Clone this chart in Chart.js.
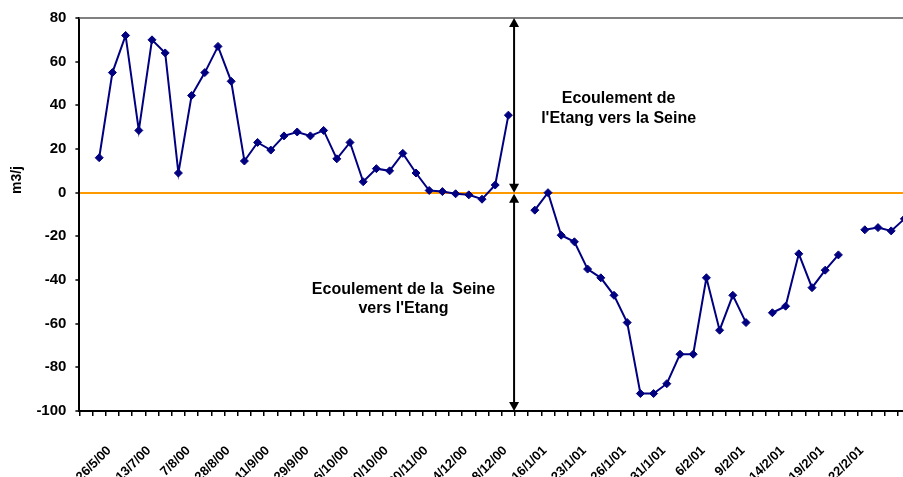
<!DOCTYPE html>
<html>
<head>
<meta charset="utf-8">
<script src="https://cdn.jsdelivr.net/npm/chart.js@4.4.1/dist/chart.umd.min.js"></script>
<style>
  html, body { margin: 0; padding: 0; background: #fff; overflow: hidden; }
  #wrap { position: relative; width: 916px; height: 477px; }
</style>
</head>
<body>
<div id="wrap"><canvas id="debit" width="916" height="477"></canvas></div>
<script>
// Dates shown under the axis, one every third sample
const tickDates = [
  '26/5/00', '13/7/00', '7/8/00', '28/8/00', '11/9/00', '29/9/00', '16/10/00',
  '30/10/00', '20/11/00', '4/12/00', '18/12/00', '16/1/01', '23/1/01', '26/1/01',
  '31/1/01', '6/2/01', '9/2/01', '14/2/01', '19/2/01', '22/2/01'
];

// Daily flow between the pond and the Seine (m3/j), null = no measurement
const debit = [
  null, 16, 55, 72, 28.5, 70, 64, 9, 44.5, 55,
  67, 51, 14.5, 23, 19.5, 26, 27.8, 26, 28.5, 15.5,
  23, 5, 11, 10, 18, 9, 1, 0.5, -0.5, -1,
  -3, 3.5, 35.5, null, -8, 0, -19.5, -22.5, -35, -39,
  -47, -59.5, -92, -92, -87.5, -74, -74, -39, -63, -47,
  -59.5, null, -55, -52, -28, -43.5, -35.5, -28.5, null, -17,
  -16, -17.5, -12
];

const yTicks = { min: -100, max: 80, step: 20 };

// Boundary between the two flow directions
const arrowAt = 32.43;
const notes = [
  { x: 40.35, y: 43.2, text: 'Ecoulement de' },
  { x: 40.35, y: 33.9, text: "l'Etang vers la Seine" },
  { x: 24.05, y: -44.5, text: 'Ecoulement de la  Seine' },
  { x: 24.05, y: -53.2, text: "vers l'Etang" }
];

const categories = debit.map((_, i) => ((i - 1) % 3 === 0 ? tickDates[(i - 1) / 3] || '' : ''));

const FONT = "'Liberation Sans', Arial, sans-serif";

function drawArrow(ctx, x, yFrom, yTo) {
  const dir = yTo > yFrom ? 1 : -1;
  ctx.beginPath();
  ctx.moveTo(x, yFrom + dir * 6);
  ctx.lineTo(x, yTo - dir * 6);
  ctx.stroke();
  [[yFrom, -dir], [yTo, dir]].forEach(([tip, d]) => {
    ctx.beginPath();
    ctx.moveTo(x, tip);
    ctx.lineTo(x - 5, tip - d * 9);
    ctx.lineTo(x + 5, tip - d * 9);
    ctx.closePath();
    ctx.fill();
  });
}

const decor = {
  id: 'decor',
  beforeDatasetsDraw(chart) {
    const { ctx, chartArea: a } = chart;
    ctx.save();
    ctx.strokeStyle = '#808080';
    ctx.lineWidth = 2;
    ctx.beginPath();
    ctx.moveTo(a.left, a.top);
    ctx.lineTo(a.right, a.top);
    ctx.stroke();
    ctx.restore();
  },
  afterDatasetsDraw(chart) {
    const { ctx, scales: { x, y } } = chart;
    ctx.save();
    ctx.strokeStyle = '#000';
    ctx.fillStyle = '#000';
    ctx.lineWidth = 2;
    const ax = x.getPixelForValue(arrowAt);
    const y0 = y.getPixelForValue(0);
    drawArrow(ctx, ax, y0, y.getPixelForValue(yTicks.max));
    drawArrow(ctx, ax, y0 + 1, y.getPixelForValue(yTicks.min));

    ctx.font = 'bold 16px ' + FONT;
    ctx.textAlign = 'center';
    ctx.textBaseline = 'middle';
    notes.forEach(n => ctx.fillText(n.text, x.getPixelForValue(n.x), y.getPixelForValue(n.y)));

    ctx.font = 'bold 14px ' + FONT;
    ctx.translate(17, 180);
    ctx.rotate(-Math.PI / 2);
    ctx.fillText('m3/j', 0, 0);
    ctx.restore();
  }
};

new Chart(document.getElementById('debit'), {
  type: 'line',
  data: {
    labels: categories,
    datasets: [{
      data: debit,
      borderColor: '#000080',
      backgroundColor: '#000080',
      borderWidth: 2,
      pointStyle: 'rectRot',
      pointRadius: 4,
      pointBorderWidth: 1,
      tension: 0,
      spanGaps: false
    }]
  },
  options: {
    responsive: false,
    animation: false,
    layout: { padding: { top: 15.7, right: 2, left: 0, bottom: 0 } },
    plugins: { legend: { display: false }, tooltip: { enabled: false } },
    scales: {
      x: {
        offset: true,
        grid: { offset: true, drawOnChartArea: false, tickLength: 5, color: '#000', lineWidth: 1.5 },
        border: { color: '#000', width: 2 },
        ticks: {
          autoSkip: false,
          minRotation: 45,
          maxRotation: 45,
          padding: 27,
          labelOffset: 10,
          color: '#000',
          font: { family: FONT, size: 13, weight: 'bold' }
        },
        afterFit(s) { s.height = 66; s.paddingLeft = 0; s.paddingRight = 0; }
      },
      y: {
        min: yTicks.min,
        max: yTicks.max,
        ticks: {
          stepSize: yTicks.step,
          padding: 9,
          color: '#000',
          font: { family: FONT, size: 15, weight: 'bold' }
        },
        grid: {
          color: c => (c.tick && c.tick.value === 0 ? '#FF9900' : 'rgba(0,0,0,0)'),
          lineWidth: 2,
          tickColor: '#000',
          tickLength: 4,
          tickWidth: 1.5
        },
        border: { color: '#000', width: 2 },
        afterFit(s) { s.width = 79.4; }
      }
    }
  },
  plugins: [decor]
});
</script>
</body>
</html>
